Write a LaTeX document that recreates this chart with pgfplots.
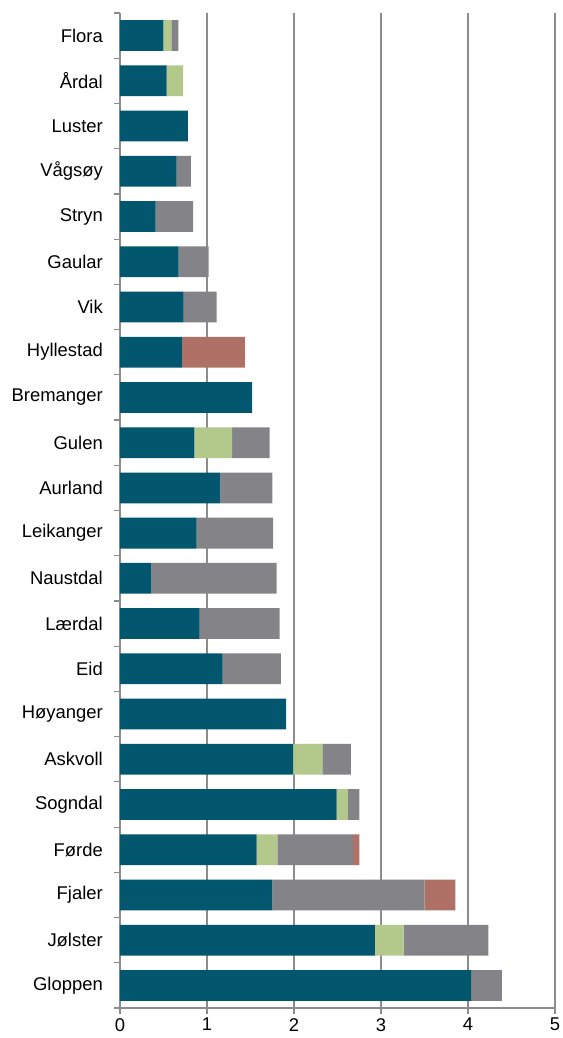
\documentclass[border=0pt]{standalone}
\usepackage{fontspec}
\setmainfont{Liberation Sans}
\usepackage{pgfplots}
\pgfplotsset{compat=1.18}
\usepackage{pgfplotstable}

\definecolor{cteal}{HTML}{02566E}
\definecolor{cgreen}{HTML}{B3C98C}
\definecolor{cgrey}{HTML}{848388}
\definecolor{cred}{HTML}{AF7166}
\definecolor{cgrid}{HTML}{8C8C8C}

% idx 0 = Flora (top) ... 21 = Gloppen (bottom)
\pgfplotstableread{
idx teal  green grey  red
0   0.50  0.09  0.08  0
1   0.535 0.19  0     0
2   0.78  0     0     0
3   0.65  0     0.165 0
4   0.41  0     0.43  0
5   0.675 0     0.345 0
6   0.73  0     0.38  0
7   0.71  0     0     0.725
8   1.52  0     0     0
9   0.855 0.435 0.43  0
10  1.155 0     0.595 0
11  0.88  0     0.88  0
12  0.36  0     1.44  0
13  0.915 0     0.92  0
14  1.18  0     0.67  0
15  1.91  0     0     0
16  1.99  0.335 0.33  0
17  2.49  0.13  0.13  0
18  1.57  0.24  0.87  0.07
19  1.75  0     1.75  0.355
20  2.93  0.33  0.975 0
21  4.035 0     0.355 0
}\datatable

\begin{document}
\begin{tikzpicture}
\useasboundingbox (-120bp,-30bp) rectangle (443bp,1008bp);
\begin{axis}[
  at={(0,0)}, anchor=south west,
  scale only axis,
  width=435bp, height=995bp,
  xbar stacked,
  bar width=0.68,
  xmin=0, xmax=5,
  ymin=-0.5, ymax=21.5,
  y dir=reverse,
  enlargelimits=false,
  axis x line*=bottom,
  axis y line*=left,
  axis line style={cgrid, line width=1.2bp},
  xtick={0,1,2,3,4,5},
  xmajorgrids,
  grid style={cgrid, line width=1.2bp},
  ytick={0,...,21},
  yticklabels={Flora,Årdal,Luster,Vågsøy,Stryn,Gaular,Vik,Hyllestad,Bremanger,Gulen,Aurland,Leikanger,Naustdal,Lærdal,Eid,Høyanger,Askvoll,Sogndal,Førde,Fjaler,Jølster,Gloppen},
  minor ytick={-0.5,0.5,...,21.5},
  tick align=outside,
  major y tick style={draw=none},
  minor y tick style={cgrid, line width=1.2bp},
  major x tick style={cgrid, line width=1.2bp},
  minor tick length=6bp,
  major tick length=6bp,
  /pgf/number format/assume math mode=true,
  tick label style={font=\fontsize{18.5}{22}\selectfont, inner sep=0pt},
  yticklabel style={anchor=east, xshift=-11bp},
  xticklabel style={anchor=north, yshift=-4bp},
  every axis plot/.append style={draw=none},
]
\addplot[fill=cteal]  table[x=teal, y=idx]{\datatable};
\addplot[fill=cgreen] table[x=green,y=idx]{\datatable};
\addplot[fill=cgrey]  table[x=grey, y=idx]{\datatable};
\addplot[fill=cred]   table[x=red,  y=idx]{\datatable};
\end{axis}
\end{tikzpicture}
\end{document}
